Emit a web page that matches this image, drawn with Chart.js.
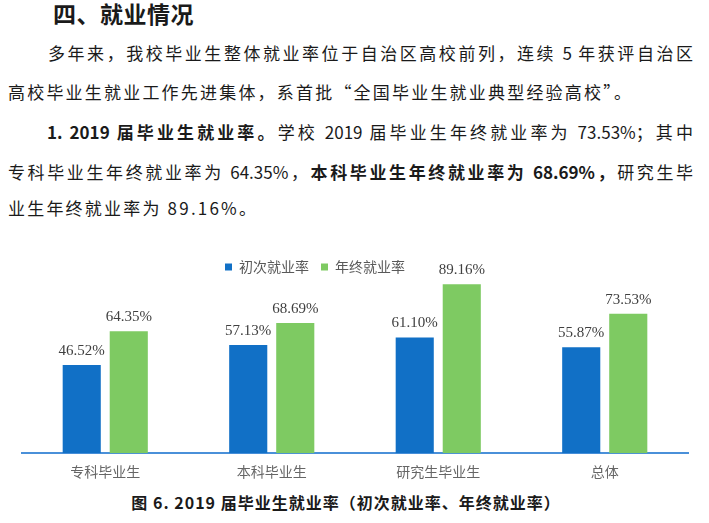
<!DOCTYPE html>
<html lang="zh-CN">
<head>
<meta charset="utf-8">
<script src="https://cdn.jsdelivr.net/npm/chart.js@4.4.1/dist/chart.umd.min.js"></script>
<style>
  html, body { margin: 0; padding: 0; background: #fff; }
  #page { position: relative; width: 709px; height: 523px; overflow: hidden;
          font-family: "Noto Sans CJK SC", sans-serif; color: #1a1a1a; }
  .line { position: absolute; font-size: 17px; line-height: 24px; white-space: nowrap; letter-spacing: 2.2px; }
  .just { white-space: normal; text-align: justify; text-align-last: justify; letter-spacing: 0; }
  .head { position: absolute; left: 53px; top: -1px; font-size: 23px; line-height: 28px; font-weight: bold; letter-spacing: 0.5px; }
  b { font-weight: bold; }
  #chart { position: absolute; left: 0; top: 240px; }
  .caption { position: absolute; left: 0; width: 692px; top: 490px; text-align: center;
             font-size: 16px; line-height: 24px; font-weight: bold; letter-spacing: 1px; }
</style>
</head>
<body>
<div id="page">
  <div class="head">四、就业情况</div>
  <div class="line just" style="left:48px; width:645px; top:41px;">多年来，我校毕业生整体就业率位于自治区高校前列，连续 5 年获评自治区</div>
  <div class="line" style="left:8px; top:80px;">高校毕业生就业工作先进集体，系首批“全国毕业生就业典型经验高校”。</div>
  <div class="line just" style="left:47px; width:646px; top:120px;"><b>1. 2019 届毕业生就业率。</b>学校 2019 届毕业生年终就业率为 73.53%；其中</div>
  <div class="line just" style="left:8px; width:685px; top:160px;">专科毕业生年终就业率为 64.35%，<b>本科毕业生年终就业率为 68.69%，</b>研究生毕</div>
  <div class="line" style="left:8px; top:196px;">业生年终就业率为 89.16%。</div>
  <canvas id="chart" width="709" height="250"></canvas>
  <div class="caption">图 6. 2019 届毕业生就业率（初次就业率、年终就业率）</div>
</div>
<script>
const categories = ['专科毕业生', '本科毕业生', '研究生毕业生', '总体'];
const seriesNames = ['初次就业率', '年终就业率'];
const firstRate = [46.52, 57.13, 61.10, 55.87];
const finalRate = [64.35, 68.69, 89.16, 73.53];

const cjk = '"Noto Sans CJK SC", sans-serif';

// value labels above each bar
const barLabels = {
  id: 'barLabels',
  afterDatasetsDraw(chart) {
    const ctx = chart.ctx;
    ctx.save();
    ctx.font = '15px "Liberation Serif", serif';
    ctx.fillStyle = '#404040';
    ctx.textAlign = 'center';
    ctx.textBaseline = 'middle';
    chart.data.datasets.forEach((ds, i) => {
      chart.getDatasetMeta(i).data.forEach((bar, j) => {
        ctx.fillText(ds.data[j].toFixed(2) + '%', bar.x, bar.y - 14);
      });
    });
    ctx.restore();
  }
};

// the legend sits a bit left of centre and a little lower in the original
const legendShift = {
  id: 'legendShift',
  afterUpdate(chart) {
    const lg = chart.legend;
    lg.left -= 40;
    lg.right -= 40;
    lg.top += 8;
    lg.bottom += 8;
  }
};

new Chart(document.getElementById('chart'), {
  type: 'bar',
  data: {
    labels: categories,
    datasets: [
      { label: seriesNames[0], data: firstRate, backgroundColor: '#1170C6' },
      { label: seriesNames[1], data: finalRate, backgroundColor: '#7ECA62' }
    ]
  },
  options: {
    responsive: false,
    animation: false,
    categoryPercentage: 0.565,
    barPercentage: 0.81,
    layout: { padding: { left: 22, right: 21, top: 0, bottom: 0 } },
    plugins: {
      legend: {
        position: 'top',
        labels: { boxWidth: 7, boxHeight: 7, padding: 12, color: '#595959', font: { family: cjk, size: 14 } }
      },
      tooltip: { enabled: false }
    },
    scales: {
      x: {
        grid: { display: false, drawTicks: false },
        border: { display: true, color: '#4A90D9', width: 2 },
        ticks: { color: '#666', padding: 10, font: { family: cjk, size: 14 } }
      },
      y: { display: false, min: 0, max: 93.5 }
    }
  },
  plugins: [barLabels, legendShift]
});
</script>
</body>
</html>
